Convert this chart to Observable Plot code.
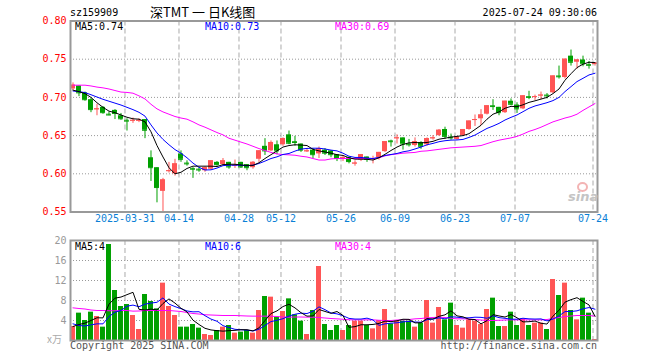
<!DOCTYPE html>
<html><head><meta charset="utf-8">
<script src="https://cdn.jsdelivr.net/npm/d3@7"></script>
<script src="https://cdn.jsdelivr.net/npm/@observablehq/plot@0.6"></script>
<style>
body{margin:0;background:#fff;}
#wrap{position:relative;width:660px;height:360px;overflow:hidden;font-family:"DejaVu Sans Mono",monospace;font-size:10px;background:#fff;}
.t{position:absolute;white-space:nowrap;line-height:1;}
#wrap svg{position:absolute;left:0;}
</style></head><body><div id="wrap"></div>
<script>
const dates = [
"2025-03-18","2025-03-19","2025-03-20","2025-03-21","2025-03-24","2025-03-25","2025-03-26","2025-03-27","2025-03-28","2025-03-31",
"2025-04-01","2025-04-02","2025-04-03","2025-04-07","2025-04-08","2025-04-09","2025-04-10","2025-04-11","2025-04-14","2025-04-15",
"2025-04-16","2025-04-17","2025-04-18","2025-04-21","2025-04-22","2025-04-23","2025-04-24","2025-04-25","2025-04-28","2025-04-29",
"2025-04-30","2025-05-06","2025-05-07","2025-05-08","2025-05-09","2025-05-12","2025-05-13","2025-05-14","2025-05-15","2025-05-16",
"2025-05-19","2025-05-20","2025-05-21","2025-05-22","2025-05-23","2025-05-26","2025-05-27","2025-05-28","2025-05-29","2025-05-30",
"2025-06-03","2025-06-04","2025-06-05","2025-06-06","2025-06-09","2025-06-10","2025-06-11","2025-06-12","2025-06-13","2025-06-16",
"2025-06-17","2025-06-18","2025-06-19","2025-06-20","2025-06-23","2025-06-24","2025-06-25","2025-06-26","2025-06-27","2025-06-30",
"2025-07-01","2025-07-02","2025-07-03","2025-07-04","2025-07-07","2025-07-08","2025-07-09","2025-07-10","2025-07-11","2025-07-14",
"2025-07-15","2025-07-16","2025-07-17","2025-07-18","2025-07-21","2025-07-22","2025-07-23","2025-07-24"];

const open = [0.711,0.715,0.706,0.697,0.684,0.687,0.678,0.683,0.676,0.670,
0.669,0.669,0.671,0.621,0.608,0.577,0.603,0.600,0.626,0.614,
0.607,0.606,0.604,0.606,0.615,0.612,0.615,0.610,0.615,0.612,
0.608,0.619,0.636,0.630,0.638,0.638,0.651,0.642,0.639,0.629,
0.631,0.626,0.631,0.630,0.625,0.619,0.621,0.613,0.618,0.622,
0.619,0.621,0.629,0.643,0.646,0.647,0.639,0.637,0.641,0.638,
0.646,0.650,0.658,0.648,0.645,0.650,0.658,0.670,0.672,0.678,
0.689,0.687,0.680,0.695,0.690,0.685,0.701,0.700,0.702,0.703,
0.706,0.728,0.726,0.754,0.746,0.749,0.743,0.743];
const high = [0.719,0.715,0.707,0.699,0.691,0.688,0.681,0.684,0.679,0.672,
0.673,0.672,0.671,0.630,0.608,0.594,0.615,0.619,0.630,0.617,
0.608,0.608,0.609,0.617,0.616,0.620,0.615,0.618,0.615,0.612,
0.616,0.630,0.646,0.643,0.643,0.647,0.656,0.649,0.639,0.633,
0.633,0.635,0.633,0.630,0.625,0.624,0.622,0.617,0.625,0.622,
0.623,0.628,0.642,0.644,0.651,0.647,0.645,0.647,0.642,0.647,
0.650,0.658,0.661,0.652,0.648,0.658,0.669,0.677,0.684,0.689,
0.697,0.687,0.695,0.698,0.693,0.702,0.708,0.703,0.707,0.705,
0.728,0.741,0.750,0.762,0.749,0.754,0.747,0.745];
const low = [0.709,0.701,0.695,0.680,0.676,0.678,0.676,0.671,0.670,0.656,
0.666,0.667,0.646,0.590,0.562,0.550,0.601,0.597,0.615,0.610,
0.594,0.602,0.602,0.605,0.610,0.610,0.606,0.607,0.607,0.604,
0.606,0.615,0.624,0.629,0.625,0.636,0.638,0.636,0.628,0.628,
0.620,0.620,0.624,0.621,0.616,0.616,0.613,0.610,0.616,0.615,
0.613,0.618,0.628,0.635,0.639,0.631,0.635,0.635,0.632,0.636,
0.644,0.649,0.645,0.644,0.644,0.649,0.657,0.662,0.663,0.677,
0.683,0.676,0.679,0.689,0.679,0.684,0.697,0.696,0.697,0.698,
0.705,0.724,0.724,0.741,0.737,0.740,0.737,0.741];
const close = [0.716,0.706,0.697,0.684,0.685,0.680,0.677,0.679,0.672,0.669,
0.670,0.670,0.657,0.608,0.582,0.592,0.604,0.613,0.619,0.613,
0.606,0.605,0.608,0.617,0.612,0.617,0.609,0.611,0.609,0.608,
0.615,0.630,0.630,0.641,0.630,0.646,0.640,0.641,0.631,0.630,
0.625,0.633,0.627,0.625,0.620,0.621,0.616,0.614,0.625,0.619,
0.620,0.628,0.642,0.642,0.647,0.639,0.638,0.642,0.636,0.646,
0.647,0.657,0.649,0.647,0.648,0.658,0.669,0.671,0.677,0.689,
0.688,0.680,0.695,0.691,0.685,0.702,0.700,0.701,0.703,0.702,
0.728,0.727,0.750,0.746,0.749,0.744,0.742,0.745];
const ma5 = [0.7095,0.7075,0.705,0.700,0.693,0.687,0.682,0.680,0.677,0.674,
0.672,0.6715,0.668,0.655,0.637,0.622,0.608,0.600,0.602,0.607,
0.610,0.610,0.610,0.610,0.6095,0.612,0.6125,0.6125,0.6115,0.611,
0.611,0.6145,0.620,0.625,0.630,0.635,0.637,0.638,0.6376,0.637,
0.632,0.630,0.6285,0.627,0.625,0.624,0.621,0.6192,0.6192,0.619,
0.618,0.621,0.6255,0.6305,0.635,0.6385,0.6405,0.641,0.6405,0.641,
0.6425,0.6453,0.6466,0.648,0.649,0.650,0.6525,0.658,0.6635,0.6715,
0.678,0.681,0.6858,0.6883,0.6879,0.6903,0.6935,0.6955,0.6978,0.700,
0.705,0.711,0.7225,0.731,0.739,0.7435,0.746,0.7455];
const ma10 = [0.7084,0.7075,0.7063,0.7035,0.7005,0.6975,0.695,0.6925,0.690,0.687,
0.684,0.6805,0.6755,0.664,0.6535,0.645,0.638,0.6317,0.627,0.621,
0.614,0.6085,0.605,0.6052,0.6075,0.6107,0.6113,0.6113,0.6113,0.6105,
0.6113,0.6135,0.6166,0.620,0.6222,0.6253,0.6266,0.6297,0.6323,0.6332,
0.6335,0.6335,0.6325,0.631,0.630,0.627,0.623,0.6214,0.6214,0.6205,
0.620,0.6215,0.624,0.6253,0.6266,0.6288,0.6301,0.6325,0.635,0.638,
0.6398,0.642,0.6433,0.6441,0.6443,0.645,0.6476,0.6507,0.6551,0.6594,
0.6625,0.666,0.6704,0.6739,0.677,0.6813,0.6857,0.6888,0.6909,0.6931,
0.6958,0.700,0.7076,0.7141,0.7207,0.725,0.7294,0.7316];
const ma30 = [0.716,0.716,0.716,0.715,0.7135,0.7125,0.711,0.709,0.707,0.7065,
0.7055,0.702,0.698,0.691,0.685,0.681,0.678,0.675,0.673,0.6715,
0.668,0.664,0.661,0.6575,0.654,0.651,0.6465,0.644,0.6415,0.639,
0.636,0.633,0.6305,0.628,0.626,0.6252,0.6248,0.6243,0.623,0.622,
0.620,0.618,0.618,0.6195,0.620,0.620,0.620,0.620,0.620,0.620,
0.620,0.621,0.6235,0.625,0.626,0.627,0.6275,0.628,0.6295,0.630,
0.631,0.632,0.633,0.634,0.6345,0.635,0.6355,0.636,0.637,0.6395,
0.642,0.644,0.6455,0.647,0.649,0.652,0.6555,0.658,0.661,0.6645,
0.668,0.6705,0.673,0.675,0.678,0.683,0.6875,0.692];
const volume = [2.8,5.47,4.0,5.67,4.8,2.67,19.2,10.0,6.8,7.2,
5.0,2.2,9.2,7.8,6.33,11.47,6.8,5.0,2.67,2.67,
3.2,2.47,1.2,1.0,2.0,2.67,3.0,1.47,1.67,2.0,
1.47,6.0,8.8,8.67,4.67,5.8,8.33,5.13,3.87,1.2,
6.0,14.8,3.2,2.0,3.0,2.0,3.0,3.87,3.87,3.0,
2.33,4.0,6.2,3.33,3.87,3.87,3.87,2.67,3.47,8.0,
3.47,6.6,4.13,7.47,3.0,2.47,4.13,3.87,3.2,6.2,
8.47,2.8,2.8,5.67,3.0,4.33,3.0,3.47,3.47,2.2,
12.2,9.0,11.47,6.0,4.13,8.47,5.47,0.2];
const vma5 = [2.8,3.2,3.47,4.0,4.55,4.52,7.27,8.47,8.69,9.17,
9.64,6.24,6.08,6.28,6.11,7.4,8.32,7.48,6.45,5.72,
4.07,3.2,2.44,2.11,1.97,1.87,1.97,2.03,2.16,2.16,
1.92,2.52,3.99,5.39,5.92,6.79,7.25,6.52,5.56,4.87,
4.91,6.2,5.81,5.44,5.8,5.0,2.64,2.77,3.15,3.15,
3.21,3.41,3.88,3.77,3.95,4.25,4.23,3.52,3.55,4.38,
4.3,4.84,5.13,5.93,4.93,4.73,4.24,4.19,3.33,3.97,
5.17,4.91,4.69,5.19,4.55,3.72,3.76,3.89,3.45,3.29,
4.87,6.07,7.67,8.17,8.56,7.81,7.11,4.85];
const vma10 = [3.33,3.0,2.9,3.13,3.33,3.33,4.8,5.67,6.0,6.86,
7.08,6.75,7.27,7.49,7.64,8.52,7.28,6.78,6.37,5.91,
5.73,5.76,4.96,4.28,3.85,2.97,2.59,2.24,2.14,2.07,
1.9,2.25,3.01,3.78,4.04,4.36,4.89,5.25,5.47,5.39,
5.85,6.73,6.17,5.5,5.33,4.95,4.42,4.29,4.29,4.47,
4.11,3.03,3.33,3.46,3.55,3.73,3.82,3.7,3.66,4.16,
4.28,4.54,4.33,4.74,4.66,4.52,4.54,4.66,4.63,4.45,
4.95,4.57,4.44,4.26,4.26,4.45,4.33,4.29,4.32,3.92,
4.29,4.91,5.78,5.81,5.93,6.34,6.59,6.26];
const vma30 = [6.53,6.4,6.3,6.1,6.0,6.0,5.95,5.95,6.0,6.0,
5.87,5.9,6.0,6.0,6.0,6.0,6.0,5.9,5.8,5.6,
5.4,5.3,5.15,5.1,5.05,5.0,5.0,5.0,4.95,4.9,
4.87,4.87,4.87,4.85,4.8,4.7,4.67,4.7,4.7,4.67,
4.67,4.6,4.5,4.4,4.33,4.25,4.15,4.13,4.13,4.13,
4.13,4.05,4.0,4.0,4.1,4.13,4.2,4.33,4.4,4.53,
4.6,4.67,4.6,4.45,4.33,4.33,4.3,4.2,4.1,4.0,
4.0,4.05,4.1,4.13,4.13,4.13,4.13,4.13,4.13,4.2,
4.4,4.6,4.8,4.9,5.0,5.0,5.0,4.87];

const tickDates = ["2025-03-31","2025-04-14","2025-04-28","2025-05-12","2025-05-26","2025-06-09","2025-06-23","2025-07-07","2025-07-24"];
const tickLabels = ["2025-03-31","04-14","04-28","05-12","05-26","06-09","06-23","07-07","07-24"];
const priceTicks = [0.55,0.60,0.65,0.70,0.75,0.80];
const priceGrid = [0.60,0.65,0.70,0.75];
const volTicks = [4,8,12,16,20];
const volGrid = [4,8,12,16];

const RED = "#ff5555", GREEN = "#00a000";
const rows = dates.map((date, i) => ({
  date, open: open[i], high: high[i], low: low[i], close: close[i],
  volume: volume[i], ma5: ma5[i], ma10: ma10[i], ma30: ma30[i],
  vma5: vma5[i], vma10: vma10[i], vma30: vma30[i],
  color: close[i] > open[i] ? RED : GREEN
}));

const xScale = {type: "band", domain: dates, paddingInner: 0.17, paddingOuter: 0, round: false, axis: null};
const baseStyle = {background: "transparent", fontFamily: "DejaVu Sans Mono, monospace", fontSize: "10px", overflow: "visible"};
const dashed = {x: d => d, stroke: "#aaa", strokeDasharray: "5,3", dx: -2};

const main = Plot.plot({
  width: 660, height: 230,
  marginLeft: 70, marginRight: 63, marginTop: 20.5, marginBottom: 18.5,
  x: xScale,
  y: {domain: [0.55, 0.80], axis: null},
  color: {type: "identity"},
  style: baseStyle,
  marks: [
    Plot.ruleY(priceGrid, {stroke: "#999", strokeDasharray: "1,2"}),
    Plot.ruleX(tickDates, dashed),
    Plot.ruleX(rows, {x: "date", y1: "low", y2: "high", stroke: "color"}),
    Plot.barY(rows, {x: "date", y1: "open", y2: "close", fill: "color"}),
    Plot.tickY(rows, {x: "date", y: "close", stroke: "color"}),
    Plot.line(rows, {x: "date", y: "ma30", stroke: "#ff00ff", strokeWidth: 1}),
    Plot.line(rows, {x: "date", y: "ma10", stroke: "#0000ff", strokeWidth: 1}),
    Plot.line(rows, {x: "date", y: "ma5", stroke: "#000000", strokeWidth: 1}),
    Plot.text(priceTicks, {y: d => d, text: d => d.toFixed(2), frameAnchor: "left", textAnchor: "end", dx: -4, fill: "#ff0000"}),
    Plot.text(tickDates, {x: d => d, text: (d, i) => tickLabels[i], frameAnchor: "bottom", dy: 10, dx: -2, fill: "#0a7fd6"}),
    Plot.frame({stroke: "#999", strokeWidth: 2})
  ]
});

const vol = Plot.plot({
  width: 660, height: 130,
  marginLeft: 70, marginRight: 63, marginTop: 10, marginBottom: 20,
  x: xScale,
  y: {domain: [0, 20], axis: null},
  color: {type: "identity"},
  style: baseStyle,
  marks: [
    Plot.ruleY(volGrid, {stroke: "#999", strokeDasharray: "1,2"}),
    Plot.ruleX(tickDates, dashed),
    Plot.barY(rows, {x: "date", y: "volume", fill: "color"}),
    Plot.line(rows, {x: "date", y: "vma30", stroke: "#ff00ff", strokeWidth: 1}),
    Plot.line(rows, {x: "date", y: "vma10", stroke: "#0000ff", strokeWidth: 1}),
    Plot.line(rows, {x: "date", y: "vma5", stroke: "#000000", strokeWidth: 1}),
    Plot.text(volTicks, {y: d => d, text: d => String(d), frameAnchor: "left", textAnchor: "end", dx: -4, fill: "#999"}),
    Plot.frame({stroke: "#999", strokeWidth: 2})
  ]
});

const wrap = document.getElementById("wrap");
main.style.top = "0px";
vol.style.top = "230px";
wrap.appendChild(main);
wrap.appendChild(vol);

function label(text, css) {
  const d = document.createElement("div");
  d.className = "t";
  d.textContent = text;
  Object.assign(d.style, css);
  wrap.appendChild(d);
}
label("sz159909", {left: "70px", top: "8px"});
label("深TMT 一 日K线图", {left: "150px", top: "5px", fontFamily: "'Noto Sans CJK SC', sans-serif", fontSize: "13px"});
label("2025-07-24 09:30:06", {right: "63px", top: "8px"});
label("MA5:0.74", {left: "75px", top: "22px", color: "#000"});
label("MA10:0.73", {left: "205px", top: "22px", color: "#0000ff"});
label("MA30:0.69", {left: "335px", top: "22px", color: "#ff00ff"});
label("MA5:4", {left: "75px", top: "242px", color: "#000"});
label("MA10:6", {left: "205px", top: "242px", color: "#0000ff"});
label("MA30:4", {left: "335px", top: "242px", color: "#ff00ff"});
label("x万", {left: "47px", top: "334px", color: "#aaa", fontFamily: "'Noto Sans CJK SC', sans-serif", fontSize: "10px"});
label("Copyright 2025 SINA.COM", {left: "70px", top: "341px", color: "#555"});
label("http://finance.sina.com.cn", {right: "63px", top: "341px", color: "#555"});
label("sina", {left: "568px", top: "190px", color: "#c4c4c4", fontFamily: "'DejaVu Sans', sans-serif", fontSize: "13px", fontWeight: "bold", fontStyle: "italic"});
const eye = document.createElement("div");
Object.assign(eye.style, {position: "absolute", left: "577px", top: "182px", width: "7px", height: "6px", border: "2px solid #f3b4b4", borderRadius: "50%"});
wrap.appendChild(eye);
</script></body></html>
